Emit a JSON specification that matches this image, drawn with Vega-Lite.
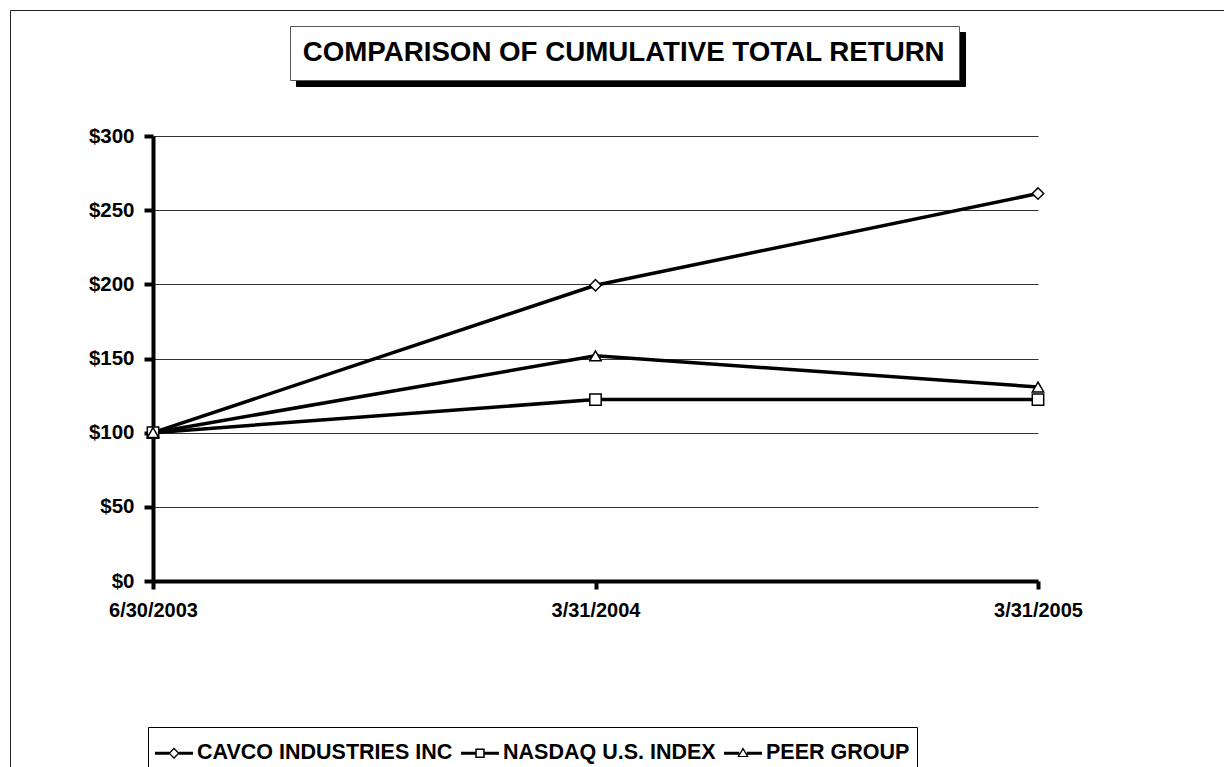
{
  "$schema": "https://vega.github.io/schema/vega-lite/v6.json",
  "width": 885,
  "height": 445,
  "autosize": {"type": "none"},
  "padding": {"left": 153, "top": 136, "right": 186, "bottom": 186},
  "background": "white",
  "config": {
    "view": {"stroke": null},
    "font": "Liberation Sans"
  },
  "datasets": {
    "returns": [
      {"date": "6/30/2003", "series": "CAVCO INDUSTRIES INC", "value": 100},
      {"date": "3/31/2004", "series": "CAVCO INDUSTRIES INC", "value": 199.4},
      {"date": "3/31/2005", "series": "CAVCO INDUSTRIES INC", "value": 261.2},
      {"date": "6/30/2003", "series": "NASDAQ U.S. INDEX", "value": 100},
      {"date": "3/31/2004", "series": "NASDAQ U.S. INDEX", "value": 122.3},
      {"date": "3/31/2005", "series": "NASDAQ U.S. INDEX", "value": 122.3},
      {"date": "6/30/2003", "series": "PEER GROUP", "value": 100},
      {"date": "3/31/2004", "series": "PEER GROUP", "value": 151.8},
      {"date": "3/31/2005", "series": "PEER GROUP", "value": 130.8}
    ],
    "titles": [
      {"heading": "COMPARISON OF CUMULATIVE TOTAL RETURN", "shadow": "COMPARISON OF CUMULATIVE TOTAL RETURN", "frame": " "}
    ]
  },
  "data": {"name": "returns"},
  "layer": [
    {
      "mark": {"type": "line", "color": "black", "strokeWidth": 3.5},
      "encoding": {
        "x": {
          "field": "date",
          "type": "ordinal",
          "sort": ["6/30/2003", "3/31/2004", "3/31/2005"],
          "scale": {"type": "point", "padding": 0},
          "axis": {
            "title": null,
            "labelAngle": 0,
            "labelFont": "Liberation Sans",
            "labelFontSize": 20,
            "labelFontWeight": "bold",
            "labelColor": "black",
            "labelPadding": 11,
            "domainColor": "black",
            "domainWidth": 4,
            "tickColor": "black",
            "tickWidth": 4,
            "tickSize": 8,
            "grid": false
          }
        },
        "y": {
          "field": "value",
          "type": "quantitative",
          "scale": {"domain": [0, 300], "nice": false},
          "axis": {
            "title": null,
            "values": [0, 50, 100, 150, 200, 250, 300],
            "format": "$.0f",
            "labelFont": "Liberation Sans",
            "labelFontSize": 20.5,
            "labelFontWeight": "bold",
            "labelColor": "black",
            "labelPadding": 10,
            "domainColor": "black",
            "domainWidth": 4,
            "tickColor": "black",
            "tickWidth": 4,
            "tickSize": 9,
            "grid": true,
            "gridColor": "#333333",
            "gridWidth": 1
          }
        },
        "detail": {"field": "series"}
      }
    },
    {
      "mark": {"type": "point", "filled": true, "fill": "white", "stroke": "black", "strokeWidth": 1.5, "size": 130, "opacity": 1},
      "encoding": {
        "x": {"field": "date", "type": "ordinal", "sort": ["6/30/2003", "3/31/2004", "3/31/2005"]},
        "y": {"field": "value", "type": "quantitative"},
        "shape": {
          "field": "series",
          "type": "nominal",
          "scale": {"domain": ["CAVCO INDUSTRIES INC", "NASDAQ U.S. INDEX", "PEER GROUP"], "range": ["diamond", "square", "triangle-up"]},
          "legend": null
        }
      }
    },
    {
      "mark": {"type": "point", "filled": true, "color": "black", "opacity": 0},
      "encoding": {
        "x": {"field": "date", "type": "ordinal", "sort": ["6/30/2003", "3/31/2004", "3/31/2005"]},
        "y": {"field": "value", "type": "quantitative"},
        "shape": {
          "field": "series",
          "type": "nominal",
          "scale": {
            "domain": ["CAVCO INDUSTRIES INC", "NASDAQ U.S. INDEX", "PEER GROUP"],
            "range": [
              "M-1,-0.08H-0.25V0.08H-1Z M0.25,-0.08H1V0.08H0.25Z M0,-0.3L0.3,0L0,0.3L-0.3,0Z M0,-0.2L-0.2,0L0,0.2L0.2,0Z",
              "M-1,-0.08H-0.25V0.08H-1Z M0.25,-0.08H1V0.08H0.25Z M-0.25,-0.25H0.25V0.25H-0.25Z M-0.17,-0.17V0.17H0.17V-0.17Z",
              "M-1,-0.08H-0.2V0.08H-1Z M0.2,-0.08H1V0.08H0.2Z M0,-0.32L0.3,0.2H-0.3Z M0,-0.17L-0.19,0.14H0.19Z"
            ]
          },
          "legend": {
            "orient": "none",
            "legendX": -5,
            "legendY": 591,
            "direction": "horizontal",
            "title": null,
            "strokeColor": "black",
            "fillColor": "white",
            "padding": 7,
            "labelFont": "Liberation Sans",
            "labelFontSize": 21.5,
            "labelFontWeight": "bold",
            "labelColor": "black",
            "labelLimit": 1000,
            "labelOffset": 4,
            "columnPadding": 8,
            "symbolSize": 1444,
            "symbolOpacity": 1,
            "symbolFillColor": "black",
            "symbolStrokeWidth": 0
          }
        }
      }
    },
    {
      "data": {"name": "titles"},
      "mark": {"type": "point", "filled": true, "opacity": 0},
      "encoding": {
        "fill": {
          "field": "heading",
          "type": "nominal",
          "legend": {
            "orient": "none",
            "legendX": 137,
            "legendY": -110,
            "title": null,
            "strokeColor": "#555555",
            "fillColor": "white",
            "padding": 13,
            "labelFont": "Liberation Sans",
            "labelFontSize": 27.7,
            "labelFontWeight": "bold",
            "labelColor": "black",
            "labelLimit": 1000,
            "labelOffset": -28,
            "symbolSize": 0,
            "symbolOpacity": 0,
            "symbolStrokeWidth": 0,
            "zindex": 2
          }
        }
      }
    },
    {
      "data": {"name": "titles"},
      "mark": {"type": "point", "filled": false, "opacity": 0},
      "encoding": {
        "stroke": {
          "field": "shadow",
          "type": "nominal",
          "legend": {
            "orient": "none",
            "legendX": 143,
            "legendY": -104,
            "title": null,
            "strokeColor": "black",
            "fillColor": "black",
            "padding": 13,
            "labelFont": "Liberation Sans",
            "labelFontSize": 27.7,
            "labelFontWeight": "bold",
            "labelColor": "black",
            "labelOpacity": 0,
            "labelLimit": 1000,
            "labelOffset": -28,
            "symbolSize": 0,
            "symbolOpacity": 0,
            "symbolStrokeWidth": 0,
            "zindex": 1
          }
        }
      }
    },
    {
      "data": {"name": "titles"},
      "mark": {"type": "point", "filled": false, "opacity": 0},
      "encoding": {
        "strokeDash": {
          "field": "frame",
          "type": "nominal",
          "legend": {
            "orient": "none",
            "legendX": -143,
            "legendY": -126,
            "title": null,
            "strokeColor": "#222222",
            "padding": 1500,
            "labelFontSize": 1,
            "labelColor": "white",
            "labelOpacity": 0,
            "symbolSize": 1,
            "symbolOpacity": 0,
            "symbolStrokeWidth": 0,
            "zindex": 0
          }
        }
      }
    }
  ],
  "resolve": {"scale": {"shape": "independent"}, "legend": {"shape": "independent"}}
}
